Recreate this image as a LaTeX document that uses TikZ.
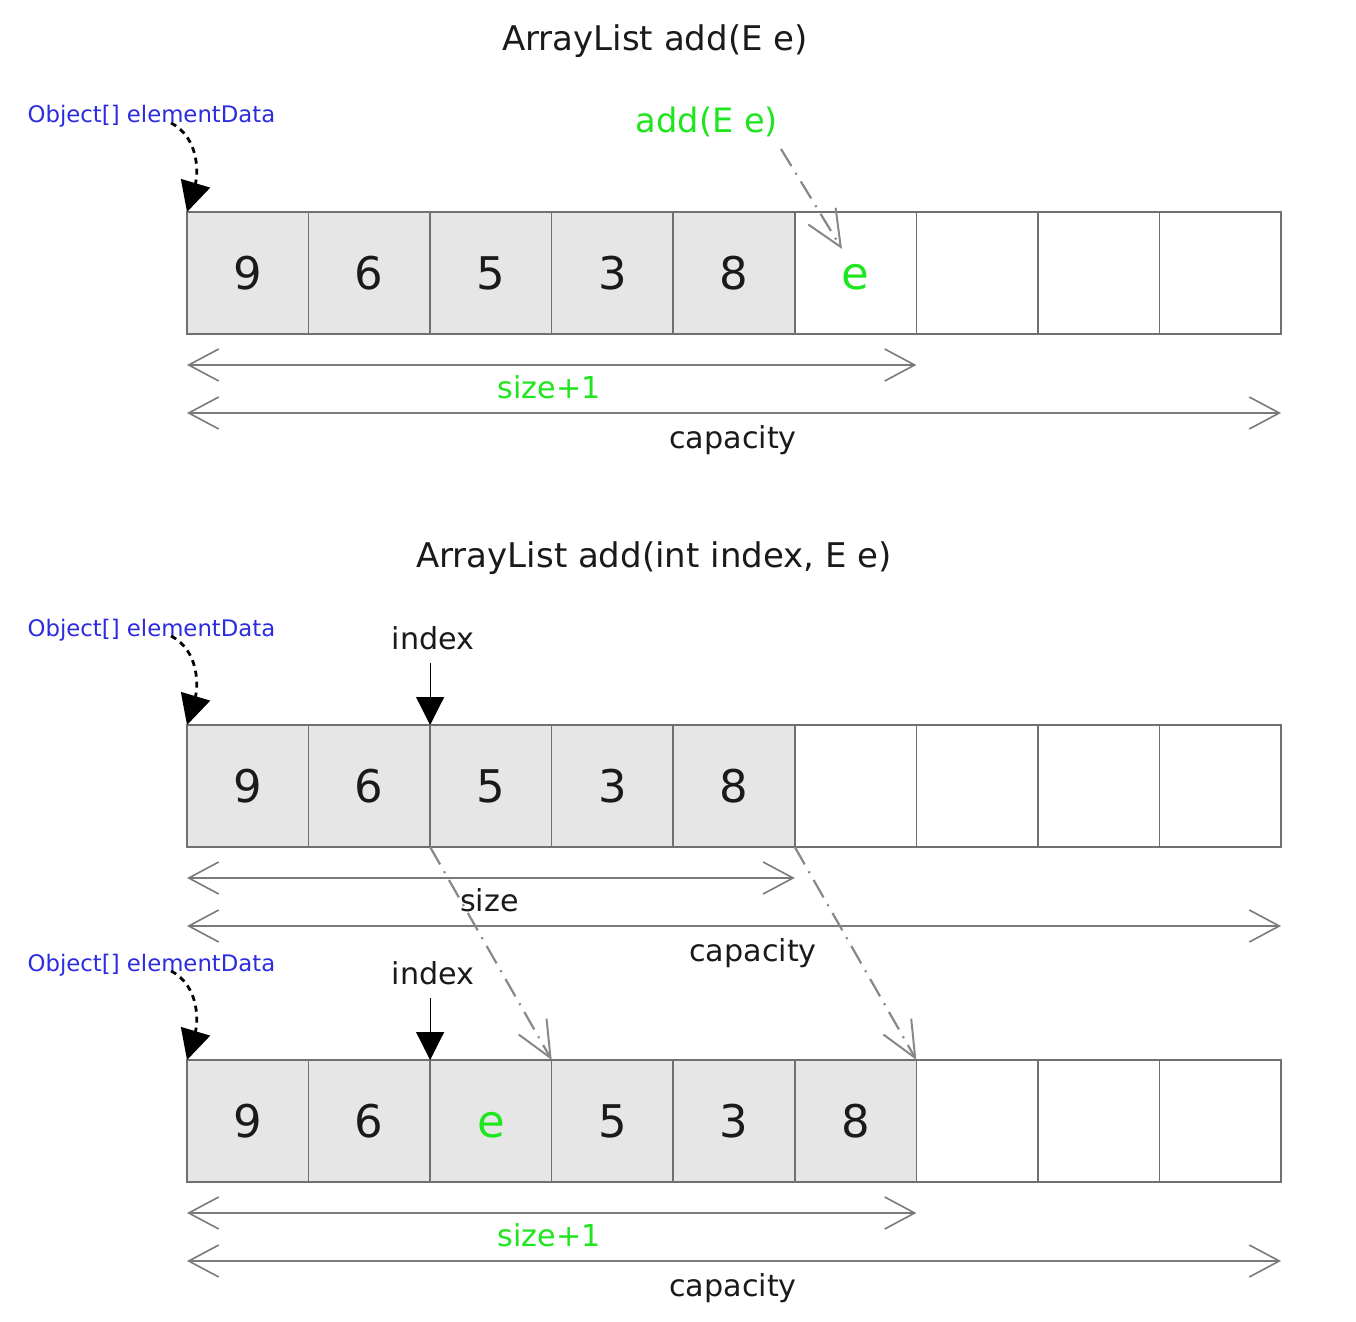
\documentclass[tikz,border=0pt]{standalone}
\usepackage{fontspec}
\setmainfont{DejaVu Sans}
\usetikzlibrary{arrows.meta}
\definecolor{cellfill}{HTML}{E6E6E6}
\definecolor{cellline}{HTML}{707070}
\definecolor{dimline}{HTML}{7A7A7A}
\definecolor{moveline}{HTML}{888888}
\definecolor{mygreen}{HTML}{1EE61E}
\definecolor{myblue}{HTML}{2B2BE0}
\definecolor{ink}{HTML}{1A1A1A}
\begin{document}
\begin{tikzpicture}[x=0.5pt,y=-0.5pt,
  cell/.style={draw=cellline, line width=0.75pt, minimum width=60.78pt, minimum height=61pt,
    inner sep=0pt, outer sep=0pt, text height=16.4pt, text depth=0pt,
    font=\fontsize{22.5}{27}\selectfont, text=ink},
  full/.style={cell, fill=cellfill},
  empty/.style={cell, fill=white},
  newel/.style={text=mygreen},
  title/.style={anchor=base, inner sep=0pt, text=ink, font=\fontsize{17}{20}\selectfont},
  lbl/.style={anchor=base, inner sep=0pt, text=ink, font=\fontsize{15.1}{18}\selectfont},
  glbl/.style={lbl, text=mygreen},
  blbl/.style={anchor=base, inner sep=0pt, text=myblue, font=\fontsize{11.4}{14}\selectfont},
  addlbl/.style={anchor=base, inner sep=0pt, text=mygreen, font=\fontsize{16.8}{20}\selectfont},
  dim/.style={draw=dimline, line width=0.9pt,
    {Straight Barb[length=15pt,width=16pt,line width=0.8pt]}-{Straight Barb[length=15pt,width=16pt,line width=0.8pt]}},
  move/.style={draw=moveline, line width=1.1pt, dash pattern=on 10pt off 4pt on 1pt off 4pt,
    -{Straight Barb[length=18pt,width=16pt,line width=1pt]}},
  ptr/.style={draw=black, line width=1.4pt, dash pattern=on 3pt off 2.5pt,
    -{Triangle[length=15pt,width=15pt]}},
  idx/.style={draw=black, line width=0.6pt, -{Triangle[length=14pt,width=14pt]}}
]
\useasboundingbox (0,0) rectangle (1356,1322);

% ---------- Part 1 ----------
\node[title] (t1) at (655,51) {ArrayList add(E e)};
\node[blbl] (o1) at (151.5,123) {Object[] elementData};
\node[addlbl] (ad) at (707,132.5) {add(E e)};

\node[full]  (a1) at (247.8,273) {9};
\node[full]  (a2) at (369.3,273) {6};
\node[full]  (a3) at (490.9,273) {5};
\node[full]  (a4) at (612.5,273) {3};
\node[full]  (a5) at (734.0,273) {8};
\node[empty,newel] (a6) at (855.6,273) {e};
\node[empty] (a7) at (977.1,273) {};
\node[empty] (a8) at (1098.7,273) {};
\node[empty] (a9) at (1220.2,273) {};

\coordinate (o1s) at (171,123);
\draw[ptr] (o1s) .. controls (200,138) and (198,175) .. (a1.north west);
\coordinate (ads) at (781,149);
\coordinate (ade) at (842,249);
\draw[move] (ads) -- (ade);

\draw[dim] ([yshift=-15.5pt]a1.south west) -- ([yshift=-15.5pt]a6.south east);
\node[glbl] (s1) at (549,398) {size+1};
\draw[dim] ([yshift=-39.5pt]a1.south west) -- ([yshift=-39.5pt]a9.south east);
\node[lbl] (c1) at (733,448) {capacity};

% ---------- Part 2 ----------
\node[title] (t2) at (654,567) {ArrayList add(int index, E e)};
\node[blbl] (o2) at (151.5,636) {Object[] elementData};
\node[lbl] (i2) at (433,649) {index};

\node[full]  (b1) at (247.8,786) {9};
\node[full]  (b2) at (369.3,786) {6};
\node[full]  (b3) at (490.9,786) {5};
\node[full]  (b4) at (612.5,786) {3};
\node[full]  (b5) at (734.0,786) {8};
\node[empty] (b6) at (855.6,786) {};
\node[empty] (b7) at (977.1,786) {};
\node[empty] (b8) at (1098.7,786) {};
\node[empty] (b9) at (1220.2,786) {};

\coordinate (o2s) at (171,636);
\draw[ptr] (o2s) .. controls (200,651) and (198,688) .. (b1.north west);
\draw[idx] (b3.north west |- 0,663) -- (b3.north west);

\draw[dim] ([yshift=-15.5pt]b1.south west) -- ([yshift=-15.5pt]b5.south east);
\node[lbl] (s2) at (489.5,911) {size};
\draw[dim] ([yshift=-39.5pt]b1.south west) -- ([yshift=-39.5pt]b9.south east);
\node[lbl] (c2) at (753,961) {capacity};

% ---------- Part 3 ----------
\node[blbl] (o3) at (151.5,971) {Object[] elementData};
\node[lbl] (i3) at (433,984) {index};

\node[full]  (d1) at (247.8,1121) {9};
\node[full]  (d2) at (369.3,1121) {6};
\node[full,newel] (d3) at (490.9,1121) {e};
\node[full]  (d4) at (612.5,1121) {5};
\node[full]  (d5) at (734.0,1121) {3};
\node[full]  (d6) at (855.6,1121) {8};
\node[empty] (d7) at (977.1,1121) {};
\node[empty] (d8) at (1098.7,1121) {};
\node[empty] (d9) at (1220.2,1121) {};

\coordinate (o3s) at (171,971);
\draw[ptr] (o3s) .. controls (200,986) and (198,1023) .. (d1.north west);
\draw[idx] (d3.north west |- 0,998) -- (d3.north west);

\draw[move] (b3.south west) -- (d4.north west);
\draw[move] (b5.south east) -- (d6.north east);

\draw[dim] ([yshift=-15.5pt]d1.south west) -- ([yshift=-15.5pt]d6.south east);
\node[glbl] (s3) at (549,1246) {size+1};
\draw[dim] ([yshift=-39.5pt]d1.south west) -- ([yshift=-39.5pt]d9.south east);
\node[lbl] (c3) at (733,1296) {capacity};
\end{tikzpicture}
\end{document}
